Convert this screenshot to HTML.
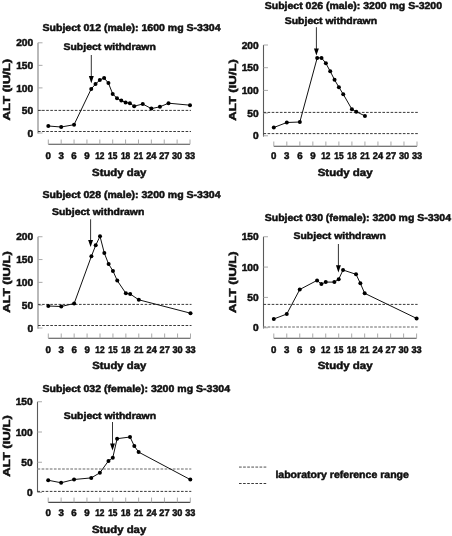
<!DOCTYPE html>
<html><head><meta charset="utf-8"><style>
html,body{margin:0;padding:0;background:#fff;}
svg{display:block;will-change:transform;font-family:"Liberation Sans", sans-serif;font-weight:bold;text-rendering:geometricPrecision;}
svg text{fill:#111;stroke:#111;stroke-width:0.5px;}
</style></head><body>
<svg width="452" height="536" viewBox="0 0 452 536">
<rect width="452" height="536" fill="#fff"/>
<g><text x="42.5" y="31" font-size="9.9" text-anchor="start" textLength="178" lengthAdjust="spacingAndGlyphs">Subject 012 (male): 1600 mg S-3304</text></g>
<text x="63.5" y="49.8" font-size="9.7" text-anchor="start" textLength="92.3" lengthAdjust="spacingAndGlyphs">Subject withdrawn</text>
<line x1="91.3" y1="55" x2="91.3" y2="77.6" stroke="#333" stroke-width="1"/>
<path d="M88.85,76.00 L93.75,76.00 L91.30,83.20 Z" fill="#000"/>
<line x1="38" y1="42.8" x2="38" y2="133.6" stroke="#a8a8a8" stroke-width="1.6"/>
<line x1="38" y1="133.0" x2="42.5" y2="133.0" stroke="#aaa" stroke-width="1"/>
<text x="33.2" y="136.6" font-size="10.2" text-anchor="end">0</text>
<line x1="38" y1="110.45" x2="42.5" y2="110.45" stroke="#aaa" stroke-width="1"/>
<text x="33.2" y="114.05" font-size="10.2" text-anchor="end">50</text>
<line x1="38" y1="87.9" x2="42.5" y2="87.9" stroke="#aaa" stroke-width="1"/>
<text x="33.2" y="91.5" font-size="10.2" text-anchor="end">100</text>
<line x1="38" y1="65.35" x2="42.5" y2="65.35" stroke="#aaa" stroke-width="1"/>
<text x="33.2" y="68.95" font-size="10.2" text-anchor="end">150</text>
<line x1="38" y1="42.8" x2="42.5" y2="42.8" stroke="#aaa" stroke-width="1"/>
<text x="33.2" y="46.4" font-size="10.2" text-anchor="end">200</text>
<text x="0" y="0" font-size="10" text-anchor="middle" textLength="61.5" lengthAdjust="spacingAndGlyphs" transform="translate(10.0,89.7) rotate(-90)">ALT (IU/L)</text>
<line x1="38" y1="110.4" x2="191.0" y2="110.4" stroke="#3a3a3a" stroke-width="1" stroke-dasharray="2.6 1.5"/>
<line x1="38" y1="131.5" x2="191.0" y2="131.5" stroke="#3a3a3a" stroke-width="1" stroke-dasharray="2.6 1.5"/>
<line x1="48.3" y1="144.3" x2="190.0" y2="144.3" stroke="#4a4a4a" stroke-width="1.1"/>
<line x1="48.3" y1="139.5" x2="48.3" y2="144.3" stroke="#aaa" stroke-width="1"/>
<text x="48.3" y="159.3" font-size="9.7" text-anchor="middle">0</text>
<line x1="61.18" y1="139.5" x2="61.18" y2="144.3" stroke="#aaa" stroke-width="1"/>
<text x="61.18" y="159.3" font-size="9.7" text-anchor="middle">3</text>
<line x1="74.06" y1="139.5" x2="74.06" y2="144.3" stroke="#aaa" stroke-width="1"/>
<text x="74.06" y="159.3" font-size="9.7" text-anchor="middle">6</text>
<line x1="86.95" y1="139.5" x2="86.95" y2="144.3" stroke="#aaa" stroke-width="1"/>
<text x="86.95" y="159.3" font-size="9.7" text-anchor="middle">9</text>
<line x1="99.83" y1="139.5" x2="99.83" y2="144.3" stroke="#aaa" stroke-width="1"/>
<text x="99.83" y="159.3" font-size="9.7" text-anchor="middle" textLength="9.3" lengthAdjust="spacingAndGlyphs">12</text>
<line x1="112.71" y1="139.5" x2="112.71" y2="144.3" stroke="#aaa" stroke-width="1"/>
<text x="112.71" y="159.3" font-size="9.7" text-anchor="middle" textLength="9.3" lengthAdjust="spacingAndGlyphs">15</text>
<line x1="125.59" y1="139.5" x2="125.59" y2="144.3" stroke="#aaa" stroke-width="1"/>
<text x="125.59" y="159.3" font-size="9.7" text-anchor="middle" textLength="9.3" lengthAdjust="spacingAndGlyphs">18</text>
<line x1="138.47" y1="139.5" x2="138.47" y2="144.3" stroke="#aaa" stroke-width="1"/>
<text x="138.47" y="159.3" font-size="9.7" text-anchor="middle" textLength="9.3" lengthAdjust="spacingAndGlyphs">21</text>
<line x1="151.35" y1="139.5" x2="151.35" y2="144.3" stroke="#aaa" stroke-width="1"/>
<text x="151.35" y="159.3" font-size="9.7" text-anchor="middle" textLength="10.2" lengthAdjust="spacingAndGlyphs">24</text>
<line x1="164.24" y1="139.5" x2="164.24" y2="144.3" stroke="#aaa" stroke-width="1"/>
<text x="164.24" y="159.3" font-size="9.7" text-anchor="middle" textLength="10.2" lengthAdjust="spacingAndGlyphs">27</text>
<line x1="177.12" y1="139.5" x2="177.12" y2="144.3" stroke="#aaa" stroke-width="1"/>
<text x="177.12" y="159.3" font-size="9.7" text-anchor="middle" textLength="10.2" lengthAdjust="spacingAndGlyphs">30</text>
<line x1="190.0" y1="139.5" x2="190.0" y2="144.3" stroke="#aaa" stroke-width="1"/>
<text x="190.0" y="159.3" font-size="9.7" text-anchor="middle" textLength="10.2" lengthAdjust="spacingAndGlyphs">33</text>
<text x="92.1" y="176.2" font-size="10.4" text-anchor="start" textLength="54.2" lengthAdjust="spacingAndGlyphs">Study day</text>
<polyline fill="none" stroke="#111" stroke-width="1" points="48.3,126 61.18,127 74.06,124.7 91.24,88.9 95.53,84.1 99.83,80 104.12,78 108.42,83.1 112.71,93.9 117.0,98.3 121.3,100.6 125.59,102.4 129.88,103.3 134.18,106.2 142.77,104 151.35,108.6 159.94,106.8 168.53,103.2 190.0,105.2"/>
<circle cx="48.3" cy="126" r="2.0" fill="#000"/>
<circle cx="61.18" cy="127" r="2.0" fill="#000"/>
<circle cx="74.06" cy="124.7" r="2.0" fill="#000"/>
<circle cx="91.24" cy="88.9" r="2.0" fill="#000"/>
<circle cx="95.53" cy="84.1" r="2.0" fill="#000"/>
<circle cx="99.83" cy="80" r="2.0" fill="#000"/>
<circle cx="104.12" cy="78" r="2.0" fill="#000"/>
<circle cx="108.42" cy="83.1" r="2.0" fill="#000"/>
<circle cx="112.71" cy="93.9" r="2.0" fill="#000"/>
<circle cx="117.0" cy="98.3" r="2.0" fill="#000"/>
<circle cx="121.3" cy="100.6" r="2.0" fill="#000"/>
<circle cx="125.59" cy="102.4" r="2.0" fill="#000"/>
<circle cx="129.88" cy="103.3" r="2.0" fill="#000"/>
<circle cx="134.18" cy="106.2" r="2.0" fill="#000"/>
<circle cx="142.77" cy="104" r="2.0" fill="#000"/>
<circle cx="151.35" cy="108.6" r="2.0" fill="#000"/>
<circle cx="159.94" cy="106.8" r="2.0" fill="#000"/>
<circle cx="168.53" cy="103.2" r="2.0" fill="#000"/>
<circle cx="190.0" cy="105.2" r="2.0" fill="#000"/>
<g><text x="264.75" y="9.3" font-size="9.9" text-anchor="start" textLength="177.25" lengthAdjust="spacingAndGlyphs">Subject 026 (male): 3200 mg S-3200</text></g>
<text x="284.75" y="24.25" font-size="9.7" text-anchor="start" textLength="92.3" lengthAdjust="spacingAndGlyphs">Subject withdrawn</text>
<line x1="316.4" y1="27.2" x2="316.4" y2="50" stroke="#333" stroke-width="1"/>
<path d="M313.95,48.40 L318.85,48.40 L316.40,55.60 Z" fill="#000"/>
<line x1="263.5" y1="45" x2="263.5" y2="136.6" stroke="#5a5a5a" stroke-width="1.1"/>
<line x1="263.5" y1="135.8" x2="268.0" y2="135.8" stroke="#aaa" stroke-width="1"/>
<text x="258.7" y="139.4" font-size="10.2" text-anchor="end">0</text>
<line x1="263.5" y1="113.1" x2="268.0" y2="113.1" stroke="#aaa" stroke-width="1"/>
<text x="258.7" y="116.7" font-size="10.2" text-anchor="end">50</text>
<line x1="263.5" y1="90.4" x2="268.0" y2="90.4" stroke="#aaa" stroke-width="1"/>
<text x="258.7" y="94.0" font-size="10.2" text-anchor="end">100</text>
<line x1="263.5" y1="67.7" x2="268.0" y2="67.7" stroke="#aaa" stroke-width="1"/>
<text x="258.7" y="71.3" font-size="10.2" text-anchor="end">150</text>
<line x1="263.5" y1="45.0" x2="268.0" y2="45.0" stroke="#aaa" stroke-width="1"/>
<text x="258.7" y="48.6" font-size="10.2" text-anchor="end">200</text>
<text x="0" y="0" font-size="10" text-anchor="middle" textLength="61.5" lengthAdjust="spacingAndGlyphs" transform="translate(236.0,90) rotate(-90)">ALT (IU/L)</text>
<line x1="263.5" y1="112.4" x2="418" y2="112.4" stroke="#3a3a3a" stroke-width="1" stroke-dasharray="2.6 1.5"/>
<line x1="263.5" y1="133.6" x2="418" y2="133.6" stroke="#3a3a3a" stroke-width="1" stroke-dasharray="2.6 1.5"/>
<line x1="273.8" y1="146.3" x2="417" y2="146.3" stroke="#4a4a4a" stroke-width="1.1"/>
<line x1="273.8" y1="141.5" x2="273.8" y2="146.3" stroke="#aaa" stroke-width="1"/>
<text x="273.8" y="159.4" font-size="9.7" text-anchor="middle">0</text>
<line x1="286.82" y1="141.5" x2="286.82" y2="146.3" stroke="#aaa" stroke-width="1"/>
<text x="286.82" y="159.4" font-size="9.7" text-anchor="middle">3</text>
<line x1="299.84" y1="141.5" x2="299.84" y2="146.3" stroke="#aaa" stroke-width="1"/>
<text x="299.84" y="159.4" font-size="9.7" text-anchor="middle">6</text>
<line x1="312.85" y1="141.5" x2="312.85" y2="146.3" stroke="#aaa" stroke-width="1"/>
<text x="312.85" y="159.4" font-size="9.7" text-anchor="middle">9</text>
<line x1="325.87" y1="141.5" x2="325.87" y2="146.3" stroke="#aaa" stroke-width="1"/>
<text x="325.87" y="159.4" font-size="9.7" text-anchor="middle" textLength="9.3" lengthAdjust="spacingAndGlyphs">12</text>
<line x1="338.89" y1="141.5" x2="338.89" y2="146.3" stroke="#aaa" stroke-width="1"/>
<text x="338.89" y="159.4" font-size="9.7" text-anchor="middle" textLength="9.3" lengthAdjust="spacingAndGlyphs">15</text>
<line x1="351.91" y1="141.5" x2="351.91" y2="146.3" stroke="#aaa" stroke-width="1"/>
<text x="351.91" y="159.4" font-size="9.7" text-anchor="middle" textLength="9.3" lengthAdjust="spacingAndGlyphs">18</text>
<line x1="364.93" y1="141.5" x2="364.93" y2="146.3" stroke="#aaa" stroke-width="1"/>
<text x="364.93" y="159.4" font-size="9.7" text-anchor="middle" textLength="9.3" lengthAdjust="spacingAndGlyphs">21</text>
<line x1="377.95" y1="141.5" x2="377.95" y2="146.3" stroke="#aaa" stroke-width="1"/>
<text x="377.95" y="159.4" font-size="9.7" text-anchor="middle" textLength="10.2" lengthAdjust="spacingAndGlyphs">24</text>
<line x1="390.96" y1="141.5" x2="390.96" y2="146.3" stroke="#aaa" stroke-width="1"/>
<text x="390.96" y="159.4" font-size="9.7" text-anchor="middle" textLength="10.2" lengthAdjust="spacingAndGlyphs">27</text>
<line x1="403.98" y1="141.5" x2="403.98" y2="146.3" stroke="#aaa" stroke-width="1"/>
<text x="403.98" y="159.4" font-size="9.7" text-anchor="middle" textLength="10.2" lengthAdjust="spacingAndGlyphs">30</text>
<line x1="417.0" y1="141.5" x2="417.0" y2="146.3" stroke="#aaa" stroke-width="1"/>
<text x="417.0" y="159.4" font-size="9.7" text-anchor="middle" textLength="10.2" lengthAdjust="spacingAndGlyphs">33</text>
<text x="317.7" y="176" font-size="10.4" text-anchor="start" textLength="54.9" lengthAdjust="spacingAndGlyphs">Study day</text>
<polyline fill="none" stroke="#111" stroke-width="1" points="273.8,127.5 286.82,122.5 299.84,122 317.19,57.9 321.53,57.9 325.87,63.3 330.21,71.3 334.55,79.8 338.89,87.2 343.23,94.2 351.91,109.3 356.25,111.7 364.93,115.9"/>
<circle cx="273.8" cy="127.5" r="2.0" fill="#000"/>
<circle cx="286.82" cy="122.5" r="2.0" fill="#000"/>
<circle cx="299.84" cy="122" r="2.0" fill="#000"/>
<circle cx="317.19" cy="57.9" r="2.0" fill="#000"/>
<circle cx="321.53" cy="57.9" r="2.0" fill="#000"/>
<circle cx="325.87" cy="63.3" r="2.0" fill="#000"/>
<circle cx="330.21" cy="71.3" r="2.0" fill="#000"/>
<circle cx="334.55" cy="79.8" r="2.0" fill="#000"/>
<circle cx="338.89" cy="87.2" r="2.0" fill="#000"/>
<circle cx="343.23" cy="94.2" r="2.0" fill="#000"/>
<circle cx="351.91" cy="109.3" r="2.0" fill="#000"/>
<circle cx="356.25" cy="111.7" r="2.0" fill="#000"/>
<circle cx="364.93" cy="115.9" r="2.0" fill="#000"/>
<g><text x="42.5" y="198" font-size="9.9" text-anchor="start" textLength="178" lengthAdjust="spacingAndGlyphs">Subject 028 (male): 3200 mg S-3304</text></g>
<text x="52" y="215" font-size="9.7" text-anchor="start" textLength="92.3" lengthAdjust="spacingAndGlyphs">Subject withdrawn</text>
<line x1="90.6" y1="219.3" x2="90.6" y2="241.5" stroke="#333" stroke-width="1"/>
<path d="M88.15,239.90 L93.05,239.90 L90.60,247.10 Z" fill="#000"/>
<line x1="38" y1="236.75" x2="38" y2="328.8" stroke="#a8a8a8" stroke-width="1.6"/>
<line x1="38" y1="328.0" x2="42.5" y2="328.0" stroke="#aaa" stroke-width="1"/>
<text x="33.2" y="331.6" font-size="10.2" text-anchor="end">0</text>
<line x1="38" y1="305.19" x2="42.5" y2="305.19" stroke="#aaa" stroke-width="1"/>
<text x="33.2" y="308.79" font-size="10.2" text-anchor="end">50</text>
<line x1="38" y1="282.37" x2="42.5" y2="282.37" stroke="#aaa" stroke-width="1"/>
<text x="33.2" y="285.97" font-size="10.2" text-anchor="end">100</text>
<line x1="38" y1="259.56" x2="42.5" y2="259.56" stroke="#aaa" stroke-width="1"/>
<text x="33.2" y="263.16" font-size="10.2" text-anchor="end">150</text>
<line x1="38" y1="236.74" x2="42.5" y2="236.74" stroke="#aaa" stroke-width="1"/>
<text x="33.2" y="240.34" font-size="10.2" text-anchor="end">200</text>
<text x="0" y="0" font-size="10" text-anchor="middle" textLength="61.5" lengthAdjust="spacingAndGlyphs" transform="translate(10.0,282) rotate(-90)">ALT (IU/L)</text>
<line x1="38" y1="304.4" x2="191.5" y2="304.4" stroke="#3a3a3a" stroke-width="1" stroke-dasharray="2.6 1.5"/>
<line x1="38" y1="325.5" x2="191.5" y2="325.5" stroke="#3a3a3a" stroke-width="1" stroke-dasharray="2.6 1.5"/>
<line x1="48.3" y1="338.3" x2="190.5" y2="338.3" stroke="#4a4a4a" stroke-width="1.1"/>
<line x1="48.3" y1="333.5" x2="48.3" y2="338.3" stroke="#aaa" stroke-width="1"/>
<text x="48.3" y="352.6" font-size="9.7" text-anchor="middle">0</text>
<line x1="61.23" y1="333.5" x2="61.23" y2="338.3" stroke="#aaa" stroke-width="1"/>
<text x="61.23" y="352.6" font-size="9.7" text-anchor="middle">3</text>
<line x1="74.15" y1="333.5" x2="74.15" y2="338.3" stroke="#aaa" stroke-width="1"/>
<text x="74.15" y="352.6" font-size="9.7" text-anchor="middle">6</text>
<line x1="87.08" y1="333.5" x2="87.08" y2="338.3" stroke="#aaa" stroke-width="1"/>
<text x="87.08" y="352.6" font-size="9.7" text-anchor="middle">9</text>
<line x1="100.01" y1="333.5" x2="100.01" y2="338.3" stroke="#aaa" stroke-width="1"/>
<text x="100.01" y="352.6" font-size="9.7" text-anchor="middle" textLength="9.3" lengthAdjust="spacingAndGlyphs">12</text>
<line x1="112.94" y1="333.5" x2="112.94" y2="338.3" stroke="#aaa" stroke-width="1"/>
<text x="112.94" y="352.6" font-size="9.7" text-anchor="middle" textLength="9.3" lengthAdjust="spacingAndGlyphs">15</text>
<line x1="125.86" y1="333.5" x2="125.86" y2="338.3" stroke="#aaa" stroke-width="1"/>
<text x="125.86" y="352.6" font-size="9.7" text-anchor="middle" textLength="9.3" lengthAdjust="spacingAndGlyphs">18</text>
<line x1="138.79" y1="333.5" x2="138.79" y2="338.3" stroke="#aaa" stroke-width="1"/>
<text x="138.79" y="352.6" font-size="9.7" text-anchor="middle" textLength="9.3" lengthAdjust="spacingAndGlyphs">21</text>
<line x1="151.72" y1="333.5" x2="151.72" y2="338.3" stroke="#aaa" stroke-width="1"/>
<text x="151.72" y="352.6" font-size="9.7" text-anchor="middle" textLength="10.2" lengthAdjust="spacingAndGlyphs">24</text>
<line x1="164.65" y1="333.5" x2="164.65" y2="338.3" stroke="#aaa" stroke-width="1"/>
<text x="164.65" y="352.6" font-size="9.7" text-anchor="middle" textLength="10.2" lengthAdjust="spacingAndGlyphs">27</text>
<line x1="177.57" y1="333.5" x2="177.57" y2="338.3" stroke="#aaa" stroke-width="1"/>
<text x="177.57" y="352.6" font-size="9.7" text-anchor="middle" textLength="10.2" lengthAdjust="spacingAndGlyphs">30</text>
<line x1="190.5" y1="333.5" x2="190.5" y2="338.3" stroke="#aaa" stroke-width="1"/>
<text x="190.5" y="352.6" font-size="9.7" text-anchor="middle" textLength="10.2" lengthAdjust="spacingAndGlyphs">33</text>
<text x="92.3" y="369.4" font-size="10.4" text-anchor="start" textLength="53.9" lengthAdjust="spacingAndGlyphs">Study day</text>
<polyline fill="none" stroke="#111" stroke-width="1" points="48.3,306 61.23,306.5 74.15,303.5 91.39,256.3 95.7,245.3 100.01,236.3 104.32,253.1 108.63,264.1 112.94,270.9 117.25,280.6 125.86,293.3 130.17,294 138.79,299.8 190.5,313.2"/>
<circle cx="48.3" cy="306" r="2.0" fill="#000"/>
<circle cx="61.23" cy="306.5" r="2.0" fill="#000"/>
<circle cx="74.15" cy="303.5" r="2.0" fill="#000"/>
<circle cx="91.39" cy="256.3" r="2.0" fill="#000"/>
<circle cx="95.7" cy="245.3" r="2.0" fill="#000"/>
<circle cx="100.01" cy="236.3" r="2.0" fill="#000"/>
<circle cx="104.32" cy="253.1" r="2.0" fill="#000"/>
<circle cx="108.63" cy="264.1" r="2.0" fill="#000"/>
<circle cx="112.94" cy="270.9" r="2.0" fill="#000"/>
<circle cx="117.25" cy="280.6" r="2.0" fill="#000"/>
<circle cx="125.86" cy="293.3" r="2.0" fill="#000"/>
<circle cx="130.17" cy="294" r="2.0" fill="#000"/>
<circle cx="138.79" cy="299.8" r="2.0" fill="#000"/>
<circle cx="190.5" cy="313.2" r="2.0" fill="#000"/>
<g><text x="264.75" y="221.25" font-size="9.9" text-anchor="start" textLength="186.25" lengthAdjust="spacingAndGlyphs">Subject 030 (female): 3200 mg S-3304</text></g>
<text x="293.5" y="239.25" font-size="9.7" text-anchor="start" textLength="92.3" lengthAdjust="spacingAndGlyphs">Subject withdrawn</text>
<line x1="338.4" y1="244" x2="338.4" y2="266.9" stroke="#333" stroke-width="1"/>
<path d="M335.95,265.30 L340.85,265.30 L338.40,272.50 Z" fill="#000"/>
<line x1="263.5" y1="236.75" x2="263.5" y2="328.5" stroke="#5a5a5a" stroke-width="1.1"/>
<line x1="263.5" y1="327.75" x2="268.0" y2="327.75" stroke="#aaa" stroke-width="1"/>
<text x="258.7" y="331.35" font-size="10.2" text-anchor="end">0</text>
<line x1="263.5" y1="297.42" x2="268.0" y2="297.42" stroke="#aaa" stroke-width="1"/>
<text x="258.7" y="301.02" font-size="10.2" text-anchor="end">50</text>
<line x1="263.5" y1="267.08" x2="268.0" y2="267.08" stroke="#aaa" stroke-width="1"/>
<text x="258.7" y="270.68" font-size="10.2" text-anchor="end">100</text>
<line x1="263.5" y1="236.75" x2="268.0" y2="236.75" stroke="#aaa" stroke-width="1"/>
<text x="258.7" y="240.35" font-size="10.2" text-anchor="end">150</text>
<text x="0" y="0" font-size="10" text-anchor="middle" textLength="61.5" lengthAdjust="spacingAndGlyphs" transform="translate(236.0,282.2) rotate(-90)">ALT (IU/L)</text>
<line x1="263.5" y1="304.4" x2="417.6" y2="304.4" stroke="#3a3a3a" stroke-width="1" stroke-dasharray="2.6 1.5"/>
<line x1="263.5" y1="327" x2="417.6" y2="327" stroke="#9a9a9a" stroke-width="1.6" stroke-dasharray="2.7 1.4"/>
<line x1="273.8" y1="338.3" x2="416.6" y2="338.3" stroke="#4a4a4a" stroke-width="1.1"/>
<line x1="273.8" y1="333.5" x2="273.8" y2="338.3" stroke="#aaa" stroke-width="1"/>
<text x="273.8" y="352.6" font-size="9.7" text-anchor="middle">0</text>
<line x1="286.78" y1="333.5" x2="286.78" y2="338.3" stroke="#aaa" stroke-width="1"/>
<text x="286.78" y="352.6" font-size="9.7" text-anchor="middle">3</text>
<line x1="299.76" y1="333.5" x2="299.76" y2="338.3" stroke="#aaa" stroke-width="1"/>
<text x="299.76" y="352.6" font-size="9.7" text-anchor="middle">6</text>
<line x1="312.75" y1="333.5" x2="312.75" y2="338.3" stroke="#aaa" stroke-width="1"/>
<text x="312.75" y="352.6" font-size="9.7" text-anchor="middle">9</text>
<line x1="325.73" y1="333.5" x2="325.73" y2="338.3" stroke="#aaa" stroke-width="1"/>
<text x="325.73" y="352.6" font-size="9.7" text-anchor="middle" textLength="9.3" lengthAdjust="spacingAndGlyphs">12</text>
<line x1="338.71" y1="333.5" x2="338.71" y2="338.3" stroke="#aaa" stroke-width="1"/>
<text x="338.71" y="352.6" font-size="9.7" text-anchor="middle" textLength="9.3" lengthAdjust="spacingAndGlyphs">15</text>
<line x1="351.69" y1="333.5" x2="351.69" y2="338.3" stroke="#aaa" stroke-width="1"/>
<text x="351.69" y="352.6" font-size="9.7" text-anchor="middle" textLength="9.3" lengthAdjust="spacingAndGlyphs">18</text>
<line x1="364.67" y1="333.5" x2="364.67" y2="338.3" stroke="#aaa" stroke-width="1"/>
<text x="364.67" y="352.6" font-size="9.7" text-anchor="middle" textLength="9.3" lengthAdjust="spacingAndGlyphs">21</text>
<line x1="377.65" y1="333.5" x2="377.65" y2="338.3" stroke="#aaa" stroke-width="1"/>
<text x="377.65" y="352.6" font-size="9.7" text-anchor="middle" textLength="10.2" lengthAdjust="spacingAndGlyphs">24</text>
<line x1="390.64" y1="333.5" x2="390.64" y2="338.3" stroke="#aaa" stroke-width="1"/>
<text x="390.64" y="352.6" font-size="9.7" text-anchor="middle" textLength="10.2" lengthAdjust="spacingAndGlyphs">27</text>
<line x1="403.62" y1="333.5" x2="403.62" y2="338.3" stroke="#aaa" stroke-width="1"/>
<text x="403.62" y="352.6" font-size="9.7" text-anchor="middle" textLength="10.2" lengthAdjust="spacingAndGlyphs">30</text>
<line x1="416.6" y1="333.5" x2="416.6" y2="338.3" stroke="#aaa" stroke-width="1"/>
<text x="416.6" y="352.6" font-size="9.7" text-anchor="middle" textLength="10.2" lengthAdjust="spacingAndGlyphs">33</text>
<text x="317.7" y="369.3" font-size="10.4" text-anchor="start" textLength="54.9" lengthAdjust="spacingAndGlyphs">Study day</text>
<polyline fill="none" stroke="#111" stroke-width="1" points="273.8,319 286.78,314 299.76,289.5 317.07,280.4 321.4,284.1 325.73,282.1 334.38,282.1 338.71,279.2 343.04,270 356.02,274.3 360.35,283.3 364.67,293.3 416.6,318.4"/>
<circle cx="273.8" cy="319" r="2.0" fill="#000"/>
<circle cx="286.78" cy="314" r="2.0" fill="#000"/>
<circle cx="299.76" cy="289.5" r="2.0" fill="#000"/>
<circle cx="317.07" cy="280.4" r="2.0" fill="#000"/>
<circle cx="321.4" cy="284.1" r="2.0" fill="#000"/>
<circle cx="325.73" cy="282.1" r="2.0" fill="#000"/>
<circle cx="334.38" cy="282.1" r="2.0" fill="#000"/>
<circle cx="338.71" cy="279.2" r="2.0" fill="#000"/>
<circle cx="343.04" cy="270" r="2.0" fill="#000"/>
<circle cx="356.02" cy="274.3" r="2.0" fill="#000"/>
<circle cx="360.35" cy="283.3" r="2.0" fill="#000"/>
<circle cx="364.67" cy="293.3" r="2.0" fill="#000"/>
<circle cx="416.6" cy="318.4" r="2.0" fill="#000"/>
<g><text x="42.5" y="392" font-size="9.9" text-anchor="start" textLength="187.5" lengthAdjust="spacingAndGlyphs">Subject 032 (female): 3200 mg S-3304</text></g>
<text x="63.75" y="419.25" font-size="9.7" text-anchor="start" textLength="92.3" lengthAdjust="spacingAndGlyphs">Subject withdrawn</text>
<line x1="112.5" y1="422" x2="112.5" y2="445" stroke="#333" stroke-width="1"/>
<path d="M110.05,443.40 L114.95,443.40 L112.50,450.60 Z" fill="#000"/>
<line x1="37.5" y1="401.75" x2="37.5" y2="492.2" stroke="#5a5a5a" stroke-width="1.1"/>
<line x1="37.5" y1="492.5" x2="42.0" y2="492.5" stroke="#aaa" stroke-width="1"/>
<text x="32.7" y="496.1" font-size="10.2" text-anchor="end">0</text>
<line x1="37.5" y1="462.25" x2="42.0" y2="462.25" stroke="#aaa" stroke-width="1"/>
<text x="32.7" y="465.85" font-size="10.2" text-anchor="end">50</text>
<line x1="37.5" y1="432.0" x2="42.0" y2="432.0" stroke="#aaa" stroke-width="1"/>
<text x="32.7" y="435.6" font-size="10.2" text-anchor="end">100</text>
<line x1="37.5" y1="401.75" x2="42.0" y2="401.75" stroke="#aaa" stroke-width="1"/>
<text x="32.7" y="405.35" font-size="10.2" text-anchor="end">150</text>
<text x="0" y="0" font-size="10" text-anchor="middle" textLength="61.5" lengthAdjust="spacingAndGlyphs" transform="translate(10.0,446) rotate(-90)">ALT (IU/L)</text>
<line x1="37.5" y1="469" x2="191.3" y2="469" stroke="#9a9a9a" stroke-width="1.6" stroke-dasharray="2.7 1.4"/>
<line x1="37.5" y1="491.4" x2="191.3" y2="491.4" stroke="#3a3a3a" stroke-width="1" stroke-dasharray="2.6 1.5"/>
<line x1="48.2" y1="502.4" x2="190.3" y2="502.4" stroke="#4a4a4a" stroke-width="1.1"/>
<line x1="48.2" y1="497.59999999999997" x2="48.2" y2="502.4" stroke="#aaa" stroke-width="1"/>
<text x="48.2" y="515.6" font-size="9.7" text-anchor="middle">0</text>
<line x1="61.12" y1="497.59999999999997" x2="61.12" y2="502.4" stroke="#aaa" stroke-width="1"/>
<text x="61.12" y="515.6" font-size="9.7" text-anchor="middle">3</text>
<line x1="74.04" y1="497.59999999999997" x2="74.04" y2="502.4" stroke="#aaa" stroke-width="1"/>
<text x="74.04" y="515.6" font-size="9.7" text-anchor="middle">6</text>
<line x1="86.95" y1="497.59999999999997" x2="86.95" y2="502.4" stroke="#aaa" stroke-width="1"/>
<text x="86.95" y="515.6" font-size="9.7" text-anchor="middle">9</text>
<line x1="99.87" y1="497.59999999999997" x2="99.87" y2="502.4" stroke="#aaa" stroke-width="1"/>
<text x="99.87" y="515.6" font-size="9.7" text-anchor="middle" textLength="9.3" lengthAdjust="spacingAndGlyphs">12</text>
<line x1="112.79" y1="497.59999999999997" x2="112.79" y2="502.4" stroke="#aaa" stroke-width="1"/>
<text x="112.79" y="515.6" font-size="9.7" text-anchor="middle" textLength="9.3" lengthAdjust="spacingAndGlyphs">15</text>
<line x1="125.71" y1="497.59999999999997" x2="125.71" y2="502.4" stroke="#aaa" stroke-width="1"/>
<text x="125.71" y="515.6" font-size="9.7" text-anchor="middle" textLength="9.3" lengthAdjust="spacingAndGlyphs">18</text>
<line x1="138.63" y1="497.59999999999997" x2="138.63" y2="502.4" stroke="#aaa" stroke-width="1"/>
<text x="138.63" y="515.6" font-size="9.7" text-anchor="middle" textLength="9.3" lengthAdjust="spacingAndGlyphs">21</text>
<line x1="151.55" y1="497.59999999999997" x2="151.55" y2="502.4" stroke="#aaa" stroke-width="1"/>
<text x="151.55" y="515.6" font-size="9.7" text-anchor="middle" textLength="10.2" lengthAdjust="spacingAndGlyphs">24</text>
<line x1="164.46" y1="497.59999999999997" x2="164.46" y2="502.4" stroke="#aaa" stroke-width="1"/>
<text x="164.46" y="515.6" font-size="9.7" text-anchor="middle" textLength="10.2" lengthAdjust="spacingAndGlyphs">27</text>
<line x1="177.38" y1="497.59999999999997" x2="177.38" y2="502.4" stroke="#aaa" stroke-width="1"/>
<text x="177.38" y="515.6" font-size="9.7" text-anchor="middle" textLength="10.2" lengthAdjust="spacingAndGlyphs">30</text>
<line x1="190.3" y1="497.59999999999997" x2="190.3" y2="502.4" stroke="#aaa" stroke-width="1"/>
<text x="190.3" y="515.6" font-size="9.7" text-anchor="middle" textLength="10.2" lengthAdjust="spacingAndGlyphs">33</text>
<text x="92" y="532.5" font-size="10.4" text-anchor="start" textLength="54.2" lengthAdjust="spacingAndGlyphs">Study day</text>
<polyline fill="none" stroke="#111" stroke-width="1" points="48.2,480.25 61.12,482.75 74.04,479.5 91.26,477.9 99.87,472.8 108.48,460.9 112.79,457.7 117.1,438.7 130.02,437 134.32,446 138.63,452.1 190.3,479.6"/>
<circle cx="48.2" cy="480.25" r="2.0" fill="#000"/>
<circle cx="61.12" cy="482.75" r="2.0" fill="#000"/>
<circle cx="74.04" cy="479.5" r="2.0" fill="#000"/>
<circle cx="91.26" cy="477.9" r="2.0" fill="#000"/>
<circle cx="99.87" cy="472.8" r="2.0" fill="#000"/>
<circle cx="108.48" cy="460.9" r="2.0" fill="#000"/>
<circle cx="112.79" cy="457.7" r="2.0" fill="#000"/>
<circle cx="117.1" cy="438.7" r="2.0" fill="#000"/>
<circle cx="130.02" cy="437" r="2.0" fill="#000"/>
<circle cx="134.32" cy="446" r="2.0" fill="#000"/>
<circle cx="138.63" cy="452.1" r="2.0" fill="#000"/>
<circle cx="190.3" cy="479.6" r="2.0" fill="#000"/>
<line x1="239" y1="467.1" x2="267.2" y2="467.1" stroke="#9a9a9a" stroke-width="1.8" stroke-dasharray="2.7 1.4"/>
<line x1="239" y1="483.5" x2="267.2" y2="483.5" stroke="#3a3a3a" stroke-width="1" stroke-dasharray="2.6 1.5"/>
<text x="275.4" y="477.9" font-size="10.2" text-anchor="start" textLength="133.5" lengthAdjust="spacingAndGlyphs">laboratory reference range</text>
</svg>
</body></html>
